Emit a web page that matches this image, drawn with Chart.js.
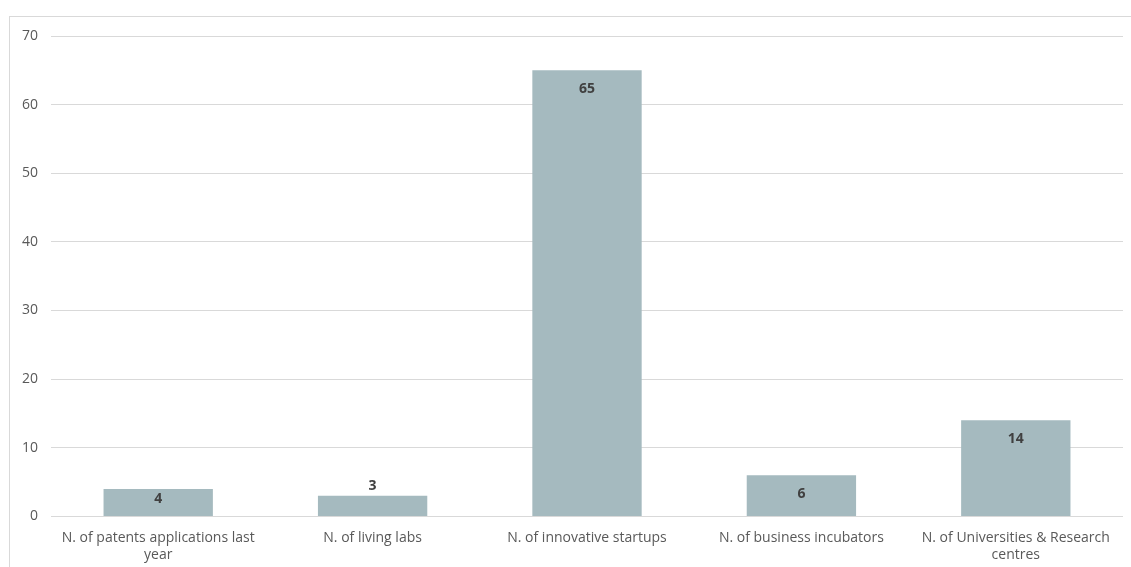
<!DOCTYPE html>
<html>
<head>
<meta charset="utf-8">
<script src="https://cdn.jsdelivr.net/npm/chart.js@4.4.1/dist/chart.umd.min.js"></script>
<style>
html,body{margin:0;padding:0;background:#fff;}
#wrap{position:absolute;left:0;top:0;width:1131px;height:567px;}
#frame{position:absolute;left:9px;top:16px;width:1200px;height:600px;border-left:1px solid #d9d9d9;border-top:1px solid #d9d9d9;}
</style>
</head>
<body>
<div id="frame"></div>
<div id="wrap"><canvas id="c" width="1131" height="567"></canvas></div>
<script>
const categories = [
  ["N. of patents applications last", "year"],
  "N. of living labs",
  "N. of innovative startups",
  "N. of business incubators",
  ["N. of Universities & Research", "centres"]
];
const values = [4, 3, 65, 6, 14];
const yTicks = [0, 10, 20, 30, 40, 50, 60, 70];

const labelPlugin = {
  id: 'barLabels',
  afterDatasetsDraw(chart) {
    const ctx = chart.ctx;
    const meta = chart.getDatasetMeta(0);
    ctx.save();
    ctx.font = 'bold 14px "Open Sans", sans-serif';
    ctx.fillStyle = '#404040';
    ctx.textAlign = 'center';
    ctx.textBaseline = 'middle';
    meta.data.forEach((bar, i) => {
      const h = bar.base - bar.y;
      let y;
      if (h >= 35) y = bar.y + 19;
      else if (h >= 25) y = bar.y + 10;
      else y = bar.y - 10;
      ctx.fillText(String(values[i]), bar.x, y);
    });
    ctx.restore();
  }
};

new Chart(document.getElementById('c'), {
  type: 'bar',
  data: {
    labels: categories,
    datasets: [{
      data: values,
      backgroundColor: '#a5babf',
      borderWidth: 0,
      barPercentage: 1,
      categoryPercentage: 0.51
    }]
  },
  options: {
    responsive: false,
    animation: false,
    layout: { padding: { left: 9, right: 8, top: 36, bottom: -1 } },
    plugins: { legend: { display: false }, tooltip: { enabled: false } },
    scales: {
      x: {
        grid: { display: false },
        border: { display: false },
        ticks: { color: '#595959', font: { family: '"Open Sans", sans-serif', size: 14, lineHeight: 1.2 }, maxRotation: 0, padding: 5 }
      },
      y: {
        min: 0, max: 70,
        afterBuildTicks(axis) { axis.ticks = yTicks.map(v => ({ value: v })); },
        grid: { color: '#d9d9d9', lineWidth: 1, drawTicks: false },
        border: { display: false },
        ticks: { color: '#595959', font: { family: '"Open Sans", sans-serif', size: 14 }, padding: 13 }
      }
    }
  },
  plugins: [labelPlugin]
});
</script>
</body>
</html>
